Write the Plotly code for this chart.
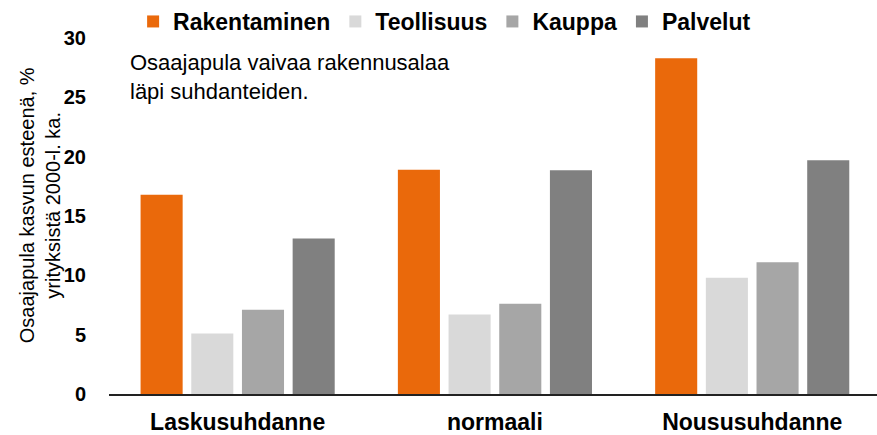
import plotly.graph_objects as go

categories = ["Laskusuhdanne", "normaali", "Noususuhdanne"]
series_names = ["Rakentaminen", "Teollisuus", "Kauppa", "Palvelut"]
rakentaminen = [16.8, 18.9, 28.3]
teollisuus = [5.1, 6.7, 9.8]
kauppa = [7.1, 7.6, 11.1]
palvelut = [13.1, 18.85, 19.7]
y_ticks = [0, 5, 10, 15, 20, 25, 30]

colors = ["#EA690B", "#D9D9D9", "#A6A6A6", "#808080"]
values = [rakentaminen, teollisuus, kauppa, palvelut]

FONT = "Arial, Liberation Sans, sans-serif"

fig = go.Figure()
for name, vals, col in zip(series_names, values, colors):
    fig.add_trace(go.Bar(x=categories, y=vals, name=name,
                         marker=dict(color=col, line=dict(width=0))))

fig.update_layout(
    width=877, height=435,
    margin=dict(l=109, r=0, t=35, b=41),
    paper_bgcolor="white", plot_bgcolor="white",
    barmode="group", bargap=0.212, bargroupgap=0.17,
    font=dict(family=FONT, color="black"),
    showlegend=True,
    legend=dict(orientation="h", x=0.437, xanchor="center", y=1.047, yanchor="middle",
                font=dict(size=23, family=FONT, weight="bold"),
                itemwidth=30, tracegroupgap=0, bgcolor="rgba(0,0,0,0)"),
    xaxis=dict(range=[-0.5, 2.485], showline=True, linecolor="#222222", linewidth=2,
               showgrid=False, ticks="", tickfont=dict(size=23, family=FONT, weight="bold"),
               ticklabelstandoff=6, fixedrange=True),
    yaxis=dict(range=[0, 30], tickvals=y_ticks, showline=False, showgrid=False, zeroline=False,
               ticks="", tickfont=dict(size=20, family=FONT, weight="bold"),
               ticklabelstandoff=22, fixedrange=True),
    annotations=[
        dict(text="Osaajapula vaivaa rakennusalaa<br>läpi suhdanteiden.", xref="paper", yref="paper",
             x=0.0247, y=0.972, xanchor="left", yanchor="top", align="left", showarrow=False,
             font=dict(size=22, family=FONT, color="black")),
        dict(text="Osaajapula kasvun esteenä, %<br>yrityksistä 2000-l. ka.", xref="paper", yref="paper",
             x=-0.090, y=0.53, xanchor="center", yanchor="middle", align="center", showarrow=False,
             textangle=-90, font=dict(size=20, family=FONT, color="black")),
    ],
)

fig.write_html("out.html", config={"displayModeBar": False},
               post_script="document.body.style.margin='0';document.body.style.overflow='hidden';")
